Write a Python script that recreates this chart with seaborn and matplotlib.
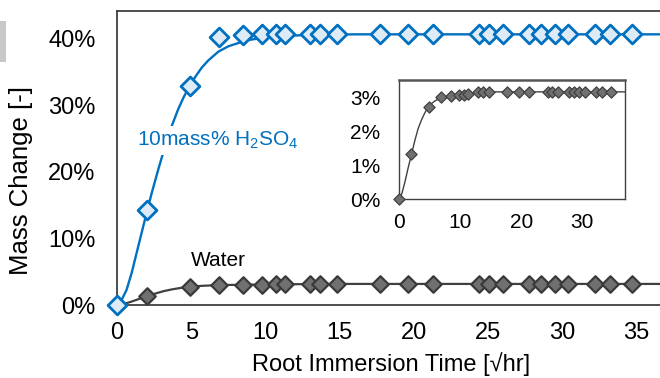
import matplotlib
matplotlib.use("Agg")
import matplotlib.pyplot as plt
import seaborn as sns
import numpy as np
import pandas as pd
from matplotlib.patches import Rectangle
from matplotlib.ticker import FuncFormatter

# ---------------- data ----------------
time_sqrt_hr = [0, 2.0, 4.9, 6.9, 8.5, 9.8, 10.7, 11.3, 13.0, 13.7, 14.8, 17.7,
                19.6, 21.3, 24.4, 25.1, 26.0, 27.8, 28.6, 29.5, 30.4, 32.2, 33.2, 34.7]
acid_pct = [0, 14.3, 32.8, 40.2, 40.5, 40.6, 40.6, 40.6, 40.6, 40.6, 40.6, 40.6,
            40.6, 40.6, 40.6, 40.6, 40.6, 40.6, 40.6, 40.6, 40.6, 40.6, 40.6, 40.6]
water_pct = [0, 1.33, 2.72, 3.0, 3.04, 3.07, 3.08, 3.10, 3.15, 3.15, 3.16, 3.16,
             3.16, 3.16, 3.16, 3.16, 3.16, 3.16, 3.16, 3.16, 3.16, 3.16, 3.16, 3.16]

# fitted curves
acid_fit_x = [0, 0.3, 0.65, 1.0, 1.21, 1.5, 1.96, 2.34, 2.79, 3.2, 3.68, 4.13, 4.5,
              4.88, 5.3, 5.71, 6.16, 6.83, 7.5, 8.18, 9.0, 10.1, 11.5, 13.0, 16.0, 37.0]
acid_fit_y = [0, 0.7, 2.3, 4.9, 6.8, 9.4, 13.5, 16.8, 20.4, 23.5, 26.8, 29.4, 31.2,
              32.8, 34.3, 35.6, 36.7, 38.0, 38.8, 39.3, 39.8, 40.15, 40.4, 40.5, 40.6, 40.6]
water_fit_x = [0, 0.16, 0.5, 0.98, 1.5, 2.06, 2.6, 3.14, 3.7, 4.2, 4.77, 5.3, 5.85,
               6.94, 8.5, 10.2, 12.9, 15.0, 37.5]
water_fit_y = [0, 0.02, 0.18, 0.51, 0.92, 1.33, 1.73, 2.08, 2.34, 2.53, 2.72, 2.81,
               2.89, 2.99, 3.04, 3.08, 3.14, 3.16, 3.16]

main_yticks = [0, 10, 20, 30, 40]
main_xticks = [0, 5, 10, 15, 20, 25, 30, 35]
inset_yticks = [0, 1, 2, 3]
inset_xticks = [0, 10, 20, 30]

acid_label = r"10mass% H$_\mathregular{2}$SO$_\mathregular{4}$"
water_label = "Water"
xlabel = "Root Immersion Time [\u221ahr]"
ylabel = "Mass Change [-]"

pts = pd.DataFrame({"t": time_sqrt_hr, "acid": acid_pct, "water": water_pct})
acid_fit = pd.DataFrame({"t": acid_fit_x, "y": acid_fit_y})
water_fit = pd.DataFrame({"t": water_fit_x, "y": water_fit_y})

# ---------------- style ----------------
sns.set_theme(style="white")
plt.rcParams["font.family"] = ["Liberation Sans", "DejaVu Sans"]
plt.rcParams["mathtext.fontset"] = "custom"
plt.rcParams["mathtext.rm"] = "Liberation Sans"
plt.rcParams["mathtext.it"] = "Liberation Sans:italic"
plt.rcParams["mathtext.bf"] = "Liberation Sans:bold"

BLUE = "#0070C0"
BLUE_FILL = "#DDEBF7"
GRAY_FILL = "#707070"
GRAY_EDGE = "#3A3A3A"
SPINE = "#404040"

fig = plt.figure(figsize=(6.6, 3.78), dpi=100)
fig.patch.set_facecolor("white")

# small grey block at top-left edge
fig.patches.append(Rectangle((0, 1 - 62 / 378), 6 / 660, 41 / 378,
                             transform=fig.transFigure, facecolor="#C8C8C8",
                             edgecolor="none"))

ax = fig.add_axes([117 / 660, 1 - 305 / 378, 1 - 117 / 660, (305 - 11) / 378])
ax.set_facecolor("white")

# water
sns.lineplot(data=water_fit, x="t", y="y", ax=ax, color=SPINE, lw=1.6,
             sort=False, zorder=2)
sns.scatterplot(data=pts, x="t", y="water", ax=ax, marker="D", s=8.4 ** 2,
                color=GRAY_FILL, edgecolor=GRAY_EDGE, linewidth=1.6,
                zorder=3, clip_on=False)
# acid
sns.lineplot(data=acid_fit, x="t", y="y", ax=ax, color=BLUE, lw=1.7,
             sort=False, zorder=4)
sns.scatterplot(data=pts, x="t", y="acid", ax=ax, marker="D", s=9.6 ** 2,
                color=BLUE_FILL, edgecolor=BLUE, linewidth=2.0,
                zorder=5, clip_on=False)

ax.set_xlim(0, 36.6)
ax.set_ylim(0, 44.1)
ax.set_xticks(main_xticks)
ax.set_yticks(main_yticks)
ax.yaxis.set_major_formatter(FuncFormatter(lambda v, p: f"{v:.0f}%"))
ax.tick_params(direction="in", length=6, width=1.1, color=SPINE,
               labelsize=17, labelcolor="black")
ax.tick_params(axis="y", pad=15.5)
ax.tick_params(axis="x", pad=12)
for side in ["left", "bottom", "top"]:
    ax.spines[side].set_color(SPINE)
    ax.spines[side].set_linewidth(1.3)
ax.spines["right"].set_visible(False)

ax.set_xlabel(xlabel, fontsize=17, color="black")
ax.xaxis.set_label_coords(0.505, -0.16)
ax.xaxis.label.set_va("top")
ax.set_ylabel(ylabel, fontsize=18.5, color="black")
ax.yaxis.set_label_coords(-0.155, 0.425)

ax.text(1.35, 24.7, acid_label, color=BLUE, fontsize=15, ha="left", va="center",
        zorder=6, bbox=dict(boxstyle="square,pad=0.2", fc="white", ec="none"))
ax.text(5.0, 6.75, water_label, color="black", fontsize=15, ha="left",
        va="center", zorder=6)

# ---------------- inset ----------------
iax = fig.add_axes([399 / 660, 1 - 199 / 378, (625 - 399) / 660, (199 - 80) / 378])
iax.set_facecolor("white")
sns.lineplot(data=water_fit, x="t", y="y", ax=iax, color=SPINE, lw=1.0,
             sort=False, zorder=2)
sns.scatterplot(data=pts, x="t", y="water", ax=iax, marker="D", s=5.7 ** 2,
                color=GRAY_FILL, edgecolor=SPINE, linewidth=0.9,
                zorder=3, clip_on=False)
iax.set_xlim(0, 37.0)
iax.set_ylim(0, 3.51)
iax.set_xticks(inset_xticks)
iax.set_yticks(inset_yticks)
iax.yaxis.set_major_formatter(FuncFormatter(lambda v, p: f"{v:.0f}%"))
iax.tick_params(direction="in", length=5, width=1.0, color=SPINE,
                labelsize=15, labelcolor="black")
iax.tick_params(axis="y", pad=13.5)
iax.tick_params(axis="x", pad=10)
iax.set_xlabel("")
iax.set_ylabel("")
for side in ["left", "bottom", "right"]:
    iax.spines[side].set_color(SPINE)
    iax.spines[side].set_linewidth(1.0)
iax.spines["top"].set_color("#555555")
iax.spines["top"].set_linewidth(1.8)

fig.savefig("out.png", dpi=100, facecolor="white")
